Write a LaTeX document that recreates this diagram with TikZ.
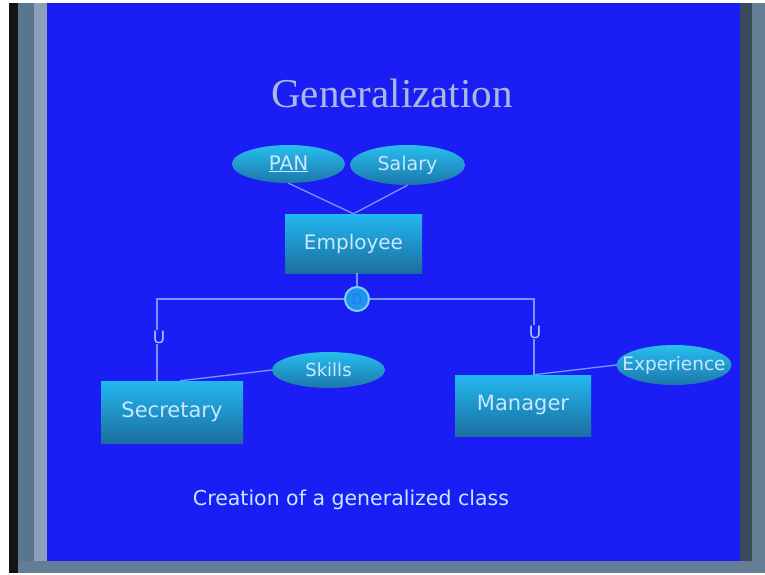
\documentclass[tikz,border=0pt]{standalone}
\usepackage{fontspec}
\setmainfont{DejaVu Sans}
\newfontfamily\titlefont{Liberation Serif}
\usetikzlibrary{shapes.geometric}
\definecolor{screenblue}{RGB}{26,30,245}
\definecolor{boxtop}{RGB}{34,184,240}
\definecolor{boxbot}{RGB}{28,110,160}
\definecolor{ovaltop}{RGB}{40,190,240}
\definecolor{ovalbot}{RGB}{28,118,170}
\definecolor{labeltext}{RGB}{200,232,255}
\definecolor{linkline}{RGB}{120,150,255}
\definecolor{titlegray}{RGB}{170,185,225}
\definecolor{bezelA}{RGB}{88,118,142}
\definecolor{bezelB}{RGB}{140,160,185}
\definecolor{bezelC}{RGB}{58,74,92}
\definecolor{bezelD}{RGB}{100,125,148}
\tikzset{
  entity/.style={rectangle, draw=none, top color=boxtop, bottom color=boxbot,
    text=labeltext, inner sep=0pt},
  attr/.style={ellipse, draw=none, top color=ovaltop, bottom color=ovalbot,
    text=labeltext, inner sep=0pt},
  link/.style={draw=linkline, line width=1.3pt},
  disj/.style={circle, fill=boxtop!75!screenblue, draw=boxtop!60!white, line width=2pt,
    minimum size=24pt, inner sep=0pt, text=screenblue!40!boxtop, font=\fontsize{14}{14}\selectfont},
  ulabel/.style={text=labeltext!85!screenblue, font=\fontsize{17}{17}\selectfont, fill=screenblue, inner sep=0.5pt}
}
\begin{document}
\begin{tikzpicture}[x=1pt, y=-1pt]
  \useasboundingbox (0,0) rectangle (765,575);
  % monitor frame and screen
  \fill[white] (0,0) rectangle (765,575);
  \fill[black!92] (9,3) rectangle (765,573);
  \fill[bezelA] (18,3) rectangle (34,573);
  \fill[bezelB] (34,3) rectangle (47,573);
  \fill[bezelC] (738,3) rectangle (752,573);
  \fill[bezelD] (752,3) rectangle (765,573);
  \fill[bezelD] (18,561) rectangle (765,573);
  \fill[screenblue] (47,3) rectangle (740,561);

  % title
  \node[text=titlegray, font=\titlefont\fontsize{41}{41}\selectfont] (title) at (392,93) {Generalization};

  % entities
  \node[entity, minimum width=137pt, minimum height=59pt, font=\fontsize{20}{20}\selectfont] (emp) at (353.5,243.5) {Employee};
  \node[entity, minimum width=142pt, minimum height=62pt, font=\fontsize{21}{21}\selectfont] (sec) at (172,412) {Secretary};
  \node[entity, minimum width=136pt, minimum height=61pt, font=\fontsize{21}{21}\selectfont] (man) at (523,405.5) {Manager};

  % attributes (labels boxed to zero width so the ellipse keeps its set size)
  \node[attr, minimum width=113pt, minimum height=38pt, font=\fontsize{20}{20}\selectfont] (pan) at (288.5,164) {\makebox[0pt]{\underline{PAN}}};
  \node[attr, minimum width=115pt, minimum height=40pt, font=\fontsize{19}{19}\selectfont] (sal) at (407.5,165) {\makebox[0pt]{Salary}};
  \node[attr, minimum width=113pt, minimum height=36pt, font=\fontsize{18}{18}\selectfont] (skl) at (328.5,370) {\makebox[0pt]{Skills}};
  \node[attr, minimum width=115pt, minimum height=40pt, font=\fontsize{18.5}{18.5}\selectfont] (exp) at (674,365) {\makebox[0pt]{Experience}};

  % attribute links
  \draw[link] (pan.south) -- (emp.north);
  \draw[link] (sal.south) -- (emp.north);
  \draw[link] ([xshift=8pt]sec.north) -- (skl.west);
  \draw[link] ([xshift=10pt]man.north) -- (exp.west);

  % disjoint specialisation
  \node[disj] (d) at (357,299) {D};
  \coordinate (lc) at (157,299);
  \coordinate (rc) at (534,299);
  \draw[link] (d.north) -- (d.north |- emp.south);
  \draw[link] (d.west) -- (lc) -- (lc |- sec.north);
  \draw[link] (d.east) -- (rc) -- (rc |- man.north);
  \node[ulabel] (u1) at (159,337) {U};
  \node[ulabel] (u2) at (535,332) {U};

  % caption
  \node[text=labeltext, font=\fontsize{20.5}{20.5}\selectfont] (cap) at (351,500) {Creation of a generalized class};
\end{tikzpicture}
\end{document}
